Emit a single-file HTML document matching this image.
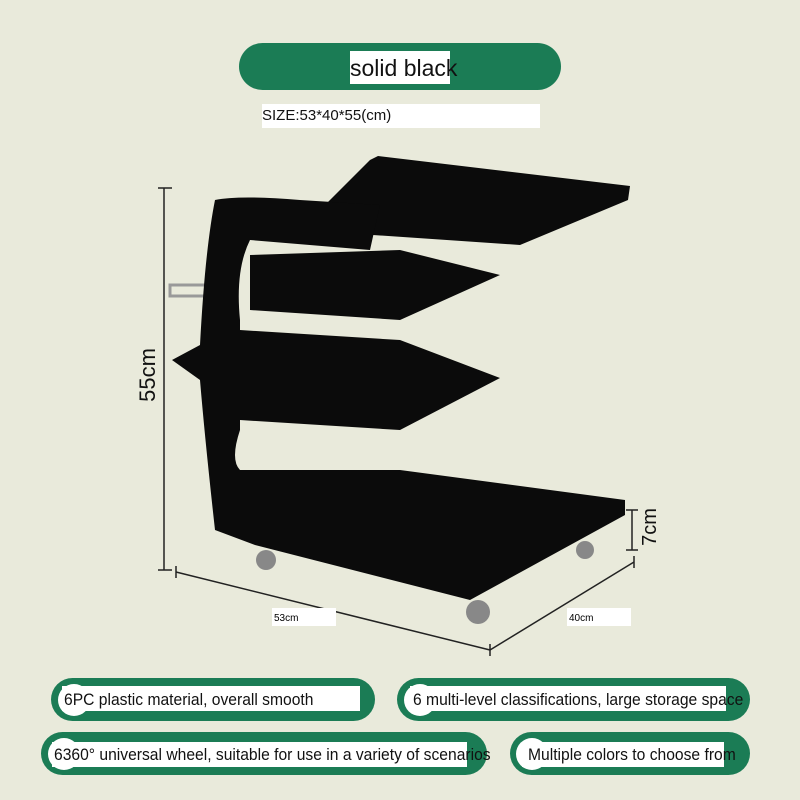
<!DOCTYPE html>
<html><head><style>
body{margin:0;width:800px;height:800px;background:#e9eadb;position:relative;overflow:hidden;font-family:"Liberation Sans",sans-serif}
.pill{position:absolute;background:#1b7c55;border-radius:24px}
.w{position:absolute;background:#fff;color:#111;white-space:nowrap;overflow:visible}
.w span{display:inline-block;transform:scaleX(0.92);transform-origin:left center;font-size:17px}
.c{position:absolute;background:#fff;border-radius:50%}
</style></head><body>
<div class="pill" style="left:239px;top:43px;width:322px;height:47px"></div>
<div class="w" style="left:350px;top:51px;width:100px;height:33px;font-size:23px;line-height:35px">solid black</div>
<div class="w" style="left:262px;top:104px;width:278px;height:24px;font-size:15px;line-height:24px">SIZE:53*40*55(cm)</div>

<svg style="position:absolute;left:0;top:0" width="800" height="800">
<g stroke="#222" stroke-width="1.5" fill="none">
<line x1="164" y1="188" x2="164" y2="570"/><line x1="158" y1="188" x2="172" y2="188"/><line x1="158" y1="570" x2="172" y2="570"/>
<line x1="176" y1="572" x2="490" y2="650"/><line x1="176" y1="566" x2="176" y2="578"/><line x1="490" y1="644" x2="490" y2="656"/>
<line x1="490" y1="650" x2="634" y2="562"/><line x1="634" y1="556" x2="634" y2="568"/>
<line x1="632" y1="510" x2="632" y2="550"/><line x1="626" y1="510" x2="638" y2="510"/><line x1="626" y1="550" x2="638" y2="550"/>
</g>
<text x="155" y="375" font-size="22" transform="rotate(-90 155 375)" text-anchor="middle" fill="#111">55cm</text>
<text x="656" y="527" font-size="20" transform="rotate(-90 656 527)" text-anchor="middle" fill="#111">7cm</text>
<rect x="272" y="608" width="64" height="18" fill="#fff"/><text x="274" y="621" font-size="10">53cm</text>
<rect x="567" y="608" width="64" height="18" fill="#fff"/><text x="569" y="621" font-size="10">40cm</text>
<path d="M170 285 L210 285 L210 296 L170 296 Z" fill="none" stroke="#999" stroke-width="3"/>
<g fill="#0b0b0b">
<path d="M370 160 L378 156 L630 186 L628 200 L520 245 L300 230 Z"/>
<path d="M215 200 Q240 195 300 200 L380 205 L370 250 L250 240 Q235 270 240 320 L240 430 Q230 460 240 470 L400 470 L625 500 L625 515 L470 600 L255 545 L215 530 Q205 440 200 380 L172 360 L200 345 Q205 250 215 200 Z"/>
<path d="M250 255 L400 250 L500 275 L400 320 L250 310 Z"/>
<path d="M240 330 L400 340 L500 378 L400 430 L240 420 Z"/>
</g>
<g fill="#888"><circle cx="266" cy="560" r="10"/><circle cx="478" cy="612" r="12"/><circle cx="585" cy="550" r="9"/></g>
</svg>

<div class="pill" style="left:51px;top:678px;width:324px;height:43px"></div>
<div class="c" style="left:58px;top:684px;width:32px;height:32px"></div>
<div class="w" style="left:62px;top:686px;width:296px;height:25px;line-height:27px;padding-left:2px"><span>6PC plastic material, overall smooth</span></div>

<div class="pill" style="left:397px;top:678px;width:353px;height:43px"></div>
<div class="c" style="left:404px;top:684px;width:32px;height:32px"></div>
<div class="w" style="left:410px;top:686px;width:313px;height:25px;line-height:27px;padding-left:3px"><span>6 multi-level classifications, large storage space</span></div>

<div class="pill" style="left:41px;top:732px;width:446px;height:43px"></div>
<div class="c" style="left:48px;top:738px;width:32px;height:32px"></div>
<div class="w" style="left:52px;top:742px;width:413px;height:25px;line-height:25px;padding-left:2px"><span>6360° universal wheel, suitable for use in a variety of scenarios</span></div>

<div class="pill" style="left:510px;top:732px;width:240px;height:43px"></div>
<div class="c" style="left:516px;top:738px;width:32px;height:32px"></div>
<div class="w" style="left:522px;top:742px;width:196px;height:25px;line-height:25px;padding-left:6px"><span>Multiple colors to choose from</span></div>
</body></html>
